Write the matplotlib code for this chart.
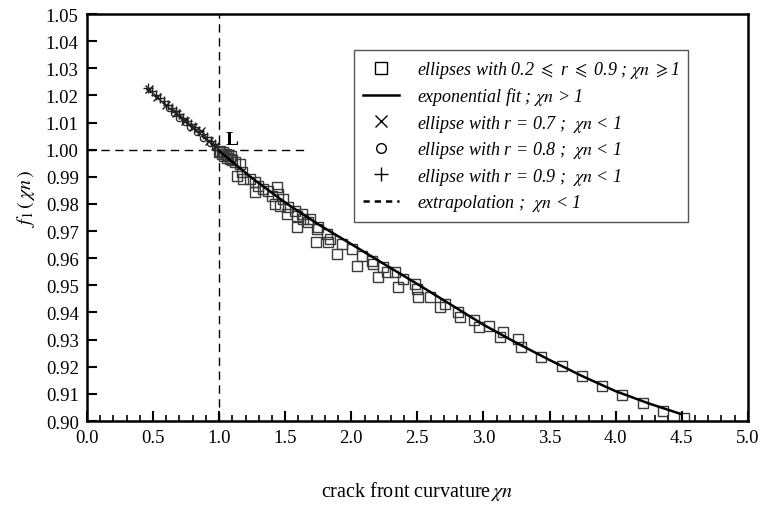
import numpy as np
import matplotlib
matplotlib.use("Agg")
import matplotlib.pyplot as plt
from matplotlib.ticker import MultipleLocator, FormatStrFormatter
from matplotlib.lines import Line2D

plt.rcParams['font.family'] = ['Liberation Serif', 'DejaVu Serif']
plt.rcParams['mathtext.fontset'] = 'stix'

# ellipses with 0.2 <= r <= 0.9, chi_n >= 1 (squares)
sq_x = [1.00, 1.01, 1.02, 1.03, 1.04, 1.05, 1.06, 1.07, 1.08, 1.09, 1.10, 1.12,
        1.157, 1.170, 1.132, 1.183, 1.233, 1.271, 1.296, 1.271, 1.334, 1.372,
        1.435, 1.397, 1.447, 1.485, 1.422, 1.460, 1.523, 1.510, 1.573, 1.586,
        1.624, 1.687, 1.586, 1.637, 1.674, 1.737, 1.750, 1.732, 1.813, 1.838,
        1.825, 1.889, 1.927, 2.002, 2.040, 2.078, 2.154, 2.166, 2.204, 2.241,
        2.267, 2.330, 2.355, 2.393, 2.481, 2.494, 2.506, 2.595, 2.670, 2.708,
        2.809, 2.821, 2.927, 2.968, 3.043, 3.124, 3.149, 3.263, 3.281, 3.434,
        3.591, 3.747, 3.898, 4.052, 4.208, 4.359, 4.518]
sq_y = [0.9990, 0.9995, 0.9985, 0.9992, 0.9978, 0.9986, 0.9970, 0.9980, 0.9965, 0.9975, 0.9962, 0.9955,
        0.9947, 0.9917, 0.9904, 0.9892, 0.9892, 0.9880, 0.9867, 0.9843, 0.9855, 0.9849,
        0.9861, 0.9830, 0.9837, 0.9818, 0.9800, 0.9794, 0.9788, 0.9763, 0.9775, 0.9757,
        0.9763, 0.9745, 0.9714, 0.9745, 0.9732, 0.9708, 0.9714, 0.9659, 0.9689, 0.9671,
        0.9659, 0.9616, 0.9652, 0.9634, 0.9572, 0.9609, 0.9591, 0.9579, 0.9530, 0.9567,
        0.9548, 0.9548, 0.9493, 0.9523, 0.9505, 0.9487, 0.9456, 0.9456, 0.9419, 0.9431,
        0.9401, 0.9382, 0.9373, 0.9345, 0.9349, 0.9309, 0.9327, 0.9302, 0.9272, 0.9237,
        0.9202, 0.9165, 0.9130, 0.9097, 0.9066, 0.9037, 0.9010]

# exponential fit, chi_n > 1
fit_x = [1.0, 1.25, 1.5, 1.75, 2.0, 2.25, 2.5, 2.75, 3.0, 3.25, 3.5, 3.75, 4.0, 4.25, 4.5]
fit_y = [0.9995, 0.9895, 0.9805, 0.9725, 0.9652, 0.9578, 0.9505, 0.9430, 0.9355,
         0.9288, 0.9225, 0.9165, 0.9110, 0.9065, 0.9025]

# extrapolation, chi_n < 1
ext_x = [0.45, 0.55, 0.65, 0.75, 0.85, 0.95, 1.0]
ext_y = [1.0225, 1.0184, 1.0143, 1.0101, 1.0060, 1.0020, 0.9998]

# ellipse r = 0.7 (x markers)
r07_x = [0.47, 0.53, 0.60, 0.67, 0.74, 0.80, 0.86, 0.92, 0.97]
r07_y = [1.0222, 1.0196, 1.0166, 1.0136, 1.0105, 1.0082, 1.0068, 1.0032, 1.0012]

# ellipse r = 0.8 (circles)
r08_x = [0.62, 0.66, 0.70, 0.74, 0.78, 0.83, 0.88, 0.93, 0.97]
r08_y = [1.0152, 1.0136, 1.0118, 1.0101, 1.0085, 1.0064, 1.0044, 1.0024, 1.0010]

# ellipse r = 0.9 (plus markers)
r09_x = [0.46, 0.49, 0.52, 0.55, 0.58, 0.61, 0.64, 0.67, 0.70, 0.73,
         0.76, 0.79, 0.82, 0.85, 0.88, 0.91, 0.94, 0.97]
r09_y = [1.0228, 1.0215, 1.0203, 1.0191, 1.0179, 1.0166, 1.0154, 1.0142, 1.0130, 1.0118,
         1.0106, 1.0094, 1.0082, 1.0069, 1.0057, 1.0045, 1.0033, 1.0020]

fig = plt.figure(figsize=(7.63, 5.10), dpi=100)
ax = fig.add_axes([0.114, 0.1725, 0.866, 0.798])

# guide lines through L
ax.plot([1.0, 1.0], [0.90, 1.05], color='black', lw=1, dashes=(6, 4))
ax.plot([0.0, 1.65], [1.0, 1.0], color='black', lw=1, dashes=(6, 4))

ax.plot(ext_x, ext_y, color='black', lw=1.5, dashes=(3, 2))
ax.plot(sq_x, sq_y, ls='none', marker='s', ms=7, mfc='none', mec='#3a3a3a', mew=1)
ax.plot(fit_x, fit_y, color='black', lw=1.8)
ax.plot(r07_x, r07_y, ls='none', marker='x', ms=6, color='#222222', mew=1)
ax.plot(r08_x, r08_y, ls='none', marker='o', ms=4.5, mfc='none', mec='#222222', mew=0.9)
ax.plot(r09_x, r09_y, ls='none', marker='+', ms=7, color='#222222', mew=1)

ax.text(1.05, 1.0038, 'L', fontsize=14, fontweight='bold', ha='left', va='center')

ax.set_xlim(0, 5)
ax.set_ylim(0.90, 1.05)
ax.xaxis.set_major_locator(MultipleLocator(0.5))
ax.xaxis.set_minor_locator(MultipleLocator(0.1))
ax.yaxis.set_major_locator(MultipleLocator(0.01))
ax.xaxis.set_major_formatter(FormatStrFormatter('%.1f'))
ax.yaxis.set_major_formatter(FormatStrFormatter('%.2f'))
ax.tick_params(which='major', direction='in', length=7, width=1.5, labelsize=13.5, pad=6)
ax.tick_params(which='minor', direction='in', length=4, width=1.2)
for s in ax.spines.values():
    s.set_linewidth(1.8)

ax.set_xlabel(r'crack front curvature$\,\mathit{\chi n}$', fontsize=14.5)
ax.xaxis.set_label_coords(0.5, -0.143)
ax.set_ylabel(r'$f_1\,(\,\chi n\,)$', fontsize=14.5)
ax.yaxis.set_label_coords(-0.075, 0.55)

handles = [
    Line2D([], [], ls='none', marker='s', ms=8, mfc='none', mec='black', mew=1),
    Line2D([], [], color='black', lw=1.8),
    Line2D([], [], ls='none', marker='x', ms=8, color='black', mew=1),
    Line2D([], [], ls='none', marker='o', ms=7, mfc='none', mec='black', mew=1),
    Line2D([], [], ls='none', marker='+', ms=10, color='black', mew=1),
    Line2D([], [], color='black', lw=1.8, dashes=(2.5, 2)),
]
labels = [
    r'ellipses with 0.2 $\leqslant$ r $\leqslant$ 0.9 ; $\chi n$ $\geqslant$1',
    r'exponential fit ; $\chi n$ > 1',
    r'ellipse with r = 0.7 ;  $\chi n$ < 1',
    r'ellipse with r = 0.8 ;  $\chi n$ < 1',
    r'ellipse with r = 0.9 ;  $\chi n$ < 1',
    r'extrapolation ;  $\chi n$ < 1',
]
leg = ax.legend(handles, labels, loc='upper right', bbox_to_anchor=(0.924, 0.934),
                prop={'family': 'Liberation Serif', 'style': 'italic', 'size': 13},
                fancybox=False, framealpha=1, edgecolor='#555555',
                handlelength=2.0, labelspacing=0.3, borderpad=0.5, handletextpad=1.0)
leg.get_frame().set_linewidth(1)

fig.savefig('out.png', dpi=100)
